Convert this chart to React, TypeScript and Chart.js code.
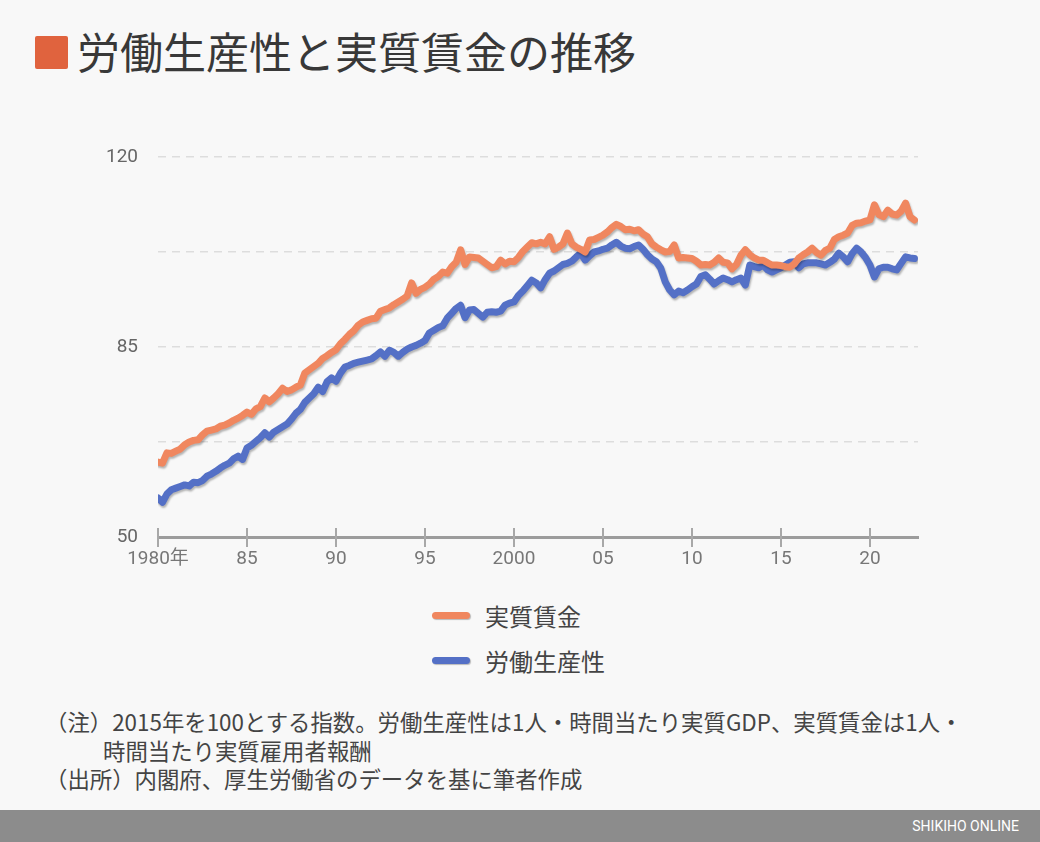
import React, { useEffect, useRef } from "react";
import { Chart, registerables } from "chart.js";

Chart.register(...registerables);

// Quarterly data, 1980Q1 .. 2022Q3 (2015 = 100)
const startYear = 1980;

const wage = [
  63.8, 63.6, 65.5, 65.4,
  65.8, 66.2, 67.0, 67.5,
  67.8, 67.9, 68.8, 69.5,
  69.7, 69.9, 70.4, 70.6,
  71.0, 71.5, 71.9, 72.4,
  73.0, 72.6, 73.6, 74.0,
  75.6, 74.9, 75.6, 76.4,
  77.4, 76.8, 77.1, 77.6,
  78.0, 80.2, 80.8, 81.4,
  82.0, 82.9, 83.4, 84.0,
  84.5, 85.6, 86.4, 87.3,
  88.0, 89.0, 89.6, 89.9,
  90.2, 90.3, 91.6, 91.9,
  92.2, 92.8, 93.3, 93.8,
  94.4, 96.8, 94.9, 95.6,
  96.0, 96.6, 97.5, 98.0,
  98.8, 98.6, 99.8, 100.6,
  102.9, 100.2, 101.6, 101.5,
  101.4, 100.8, 100.2, 99.6,
  99.8, 101.0, 100.3, 100.8,
  100.7, 101.5, 102.6, 103.4,
  104.2, 104.0, 104.3, 104.0,
  105.3, 103.0, 103.4, 104.0,
  106.0, 104.0, 103.4, 103.0,
  102.5, 104.7, 104.8, 105.2,
  105.6, 106.2, 107.0, 107.6,
  107.2, 106.6, 106.7, 106.4,
  106.6, 105.8, 105.3, 104.0,
  103.4, 102.9, 102.5, 102.6,
  103.8, 101.4, 101.5, 101.4,
  101.3, 100.8, 100.1, 100.2,
  100.1, 100.6, 101.4, 100.6,
  100.5, 99.4, 100.2, 101.9,
  102.9, 102.0, 101.4, 101.0,
  101.0, 100.5, 100.1, 100.1,
  100.0, 99.8, 99.7, 100.3,
  101.4, 102.0, 102.5, 103.2,
  102.4, 101.9, 102.8, 103.2,
  104.8, 105.3, 105.6, 106.0,
  107.4, 107.8, 107.9, 108.2,
  108.4, 111.2, 109.4, 109.0,
  110.2, 109.5, 109.3, 110.0,
  111.5, 109.0, 108.4,
];

const productivity = [
  57.2, 56.4, 57.9, 58.7,
  59.0, 59.3, 59.6, 59.4,
  60.1, 60.0, 60.4, 61.2,
  61.6, 62.1, 62.7, 63.2,
  63.6, 64.4, 64.9, 64.3,
  66.4, 66.9, 67.6, 68.3,
  69.2, 68.4, 69.3, 69.8,
  70.3, 70.8, 71.7, 72.8,
  73.5, 74.8, 75.6, 76.4,
  77.6, 76.8, 78.6, 79.3,
  78.7, 80.2, 81.3, 81.6,
  82.0, 82.2, 82.4, 82.6,
  82.8, 83.4, 84.1, 83.3,
  84.4, 84.0, 83.3, 84.0,
  84.6, 85.0, 85.3, 85.7,
  86.2, 87.6, 88.1, 88.6,
  88.9, 90.3, 91.2, 92.1,
  92.7, 90.4, 91.8, 91.9,
  91.2, 90.5, 91.4, 91.5,
  91.4, 91.6, 92.7, 93.1,
  93.3, 94.5, 95.3, 96.3,
  97.3, 96.8, 95.9, 97.4,
  98.6, 99.0, 99.6, 100.2,
  100.4, 100.8, 101.6, 102.3,
  101.0, 101.8, 102.5, 102.7,
  103.0, 103.2, 103.8, 104.3,
  103.6, 103.2, 103.1, 103.5,
  103.8, 103.0, 102.0, 101.2,
  100.7, 99.5, 97.0, 95.5,
  94.6, 95.3, 95.0, 95.5,
  96.1, 96.6, 98.0, 98.3,
  97.5, 96.6, 97.2, 97.7,
  97.4, 97.0, 97.4, 97.7,
  96.4, 100.1, 99.8, 99.6,
  100.1, 99.2, 98.8, 99.2,
  99.6, 100.1, 100.6, 100.7,
  99.6, 100.3, 100.5, 100.5,
  100.5, 100.3, 100.1, 100.6,
  101.2, 102.3, 101.6, 100.7,
  102.2, 103.2, 102.5, 101.5,
  100.1, 97.9, 99.4, 99.7,
  99.7, 99.4, 99.2, 100.4,
  101.6, 101.4, 101.3,
];

const xTickValues = [1980, 1985, 1990, 1995, 2000, 2005, 2010, 2015, 2020];
const xTickLabels = ["1980年", "85", "90", "95", "2000", "05", "10", "15", "20"];
const yGridValues = [50, 67.5, 85, 102.5, 120];
const yTickLabels = ["50", "", "85", "", "120"];
const seriesNames = ["実質賃金", "労働生産性"];
const seriesColors = ["#F0875F", "#5470C6"];

const title = "労働生産性と実質賃金の推移";
const noteLines = [
  "（注）2015年を100とする指数。労働生産性は1人・時間当たり実質GDP、実質賃金は1人・",
  "時間当たり実質雇用者報酬",
  "（出所）内閣府、厚生労働省のデータを基に筆者作成",
];
const credit = "SHIKIHO ONLINE";

const CJK = "'Noto Sans CJK JP', 'Noto Sans', sans-serif";
const NUM = "Roboto, 'Noto Sans CJK JP', sans-serif";

const toPoints = (arr: number[]) => arr.map((v, i) => ({ x: startYear + i / 4, y: v }));

const shadowPlugin = {
  id: "lineShadow",
  beforeDatasetsDraw(chart: any) {
    const ctx = chart.ctx;
    ctx.save();
    ctx.shadowColor = "rgba(0,0,0,0.28)";
    ctx.shadowOffsetX = 1;
    ctx.shadowOffsetY = 2;
    ctx.shadowBlur = 2;
  },
  afterDatasetsDraw(chart: any) {
    chart.ctx.restore();
  },
};

const tickMarkPlugin = {
  id: "tickMarks",
  afterDraw(chart: any) {
    const ctx = chart.ctx;
    const xs = chart.scales.x;
    const bottom = chart.chartArea.bottom;
    ctx.save();
    ctx.strokeStyle = "#a8a8a8";
    ctx.lineWidth = 2;
    xTickValues.forEach((v) => {
      const px = Math.round(xs.getPixelForValue(v));
      ctx.beginPath();
      ctx.moveTo(px, bottom - 9);
      ctx.lineTo(px, bottom + 10);
      ctx.stroke();
    });
    ctx.restore();
  },
};

function LineChart() {
  const ref = useRef<HTMLCanvasElement | null>(null);
  useEffect(() => {
    if (!ref.current) return;
    const datasets = [wage, productivity].map((arr, i) => ({
      label: seriesNames[i],
      data: toPoints(arr),
      borderColor: seriesColors[i],
      backgroundColor: seriesColors[i],
      borderWidth: 7,
      pointRadius: 0,
      tension: 0,
      borderJoinStyle: "round" as const,
      borderCapStyle: "round" as const,
      fill: false,
    }));
    const chart = new Chart(ref.current, {
      type: "line",
      data: { datasets },
      options: {
        animation: false,
        responsive: false,
        maintainAspectRatio: false,
        layout: { padding: { top: 57, right: 122, left: 0, bottom: 0 } },
        plugins: { legend: { display: false }, tooltip: { enabled: false } },
        scales: {
          x: {
            type: "linear",
            min: 1980,
            max: 2022.7,
            afterBuildTicks: (s: any) => {
              s.ticks = xTickValues.map((v) => ({ value: v }));
            },
            afterFit: (s: any) => {
              s.height = 43;
            },
            grid: { display: true, color: "rgba(0,0,0,0)", drawTicks: false },
            border: { display: true, color: "#9c9c9c", width: 3 },
            ticks: {
              autoSkip: false,
              maxRotation: 0,
              padding: 11,
              color: "#777777",
              font: { family: NUM, size: 19 },
              callback: (v: any) => {
                const idx = xTickValues.indexOf(Number(v));
                return idx >= 0 ? xTickLabels[idx] : "";
              },
            },
          },
          y: {
            type: "linear",
            min: 50,
            max: 120,
            afterBuildTicks: (s: any) => {
              s.ticks = yGridValues.map((v) => ({ value: v }));
            },
            afterFit: (s: any) => {
              s.width = 158;
            },
            grid: { color: "#dddddd", lineWidth: 1.5, drawTicks: false },
            border: { display: false, dash: [8, 6] },
            ticks: {
              padding: 20,
              color: "#666666",
              font: { family: NUM, size: 19 },
              callback: (v: any) => {
                const idx = yGridValues.indexOf(Number(v));
                return idx >= 0 ? yTickLabels[idx] : "";
              },
            },
          },
        },
      },
      plugins: [shadowPlugin, tickMarkPlugin],
    });
    return () => chart.destroy();
  }, []);
  return (
    <canvas
      ref={ref}
      width={1040}
      height={480}
      style={{ position: "absolute", left: 0, top: 100, width: 1040, height: 480 }}
    />
  );
}

export default function App() {
  return (
    <div
      style={{
        position: "absolute",
        left: 0,
        top: 0,
        width: 1040,
        height: 842,
        background: "#f8f8f8",
        overflow: "hidden",
        fontFamily: CJK,
      }}
    >
      <div
        style={{
          position: "absolute",
          left: 35,
          top: 36,
          width: 33,
          height: 33,
          background: "#E0633E",
          borderRadius: 2,
        }}
      />
      <div
        style={{
          position: "absolute",
          left: 77,
          top: 25,
          fontSize: 43,
          lineHeight: "50px",
          color: "#383838",
          whiteSpace: "nowrap",
        }}
      >
        {title}
      </div>

      <LineChart />

      {seriesNames.map((name, i) => (
        <div key={name}>
          <div
            style={{
              position: "absolute",
              left: 432,
              top: 612 + i * 45,
              width: 38,
              height: 7,
              borderRadius: 4,
              background: seriesColors[i],
              boxShadow: "1px 1px 1px rgba(0,0,0,0.25)",
            }}
          />
          <div
            style={{
              position: "absolute",
              left: 485,
              top: 600 + i * 45,
              fontSize: 24,
              lineHeight: "32px",
              color: "#444444",
              whiteSpace: "nowrap",
            }}
          >
            {name}
          </div>
        </div>
      ))}

      <div
        style={{
          position: "absolute",
          left: 45,
          top: 707,
          fontSize: 22.4,
          lineHeight: "28.5px",
          color: "#444444",
          whiteSpace: "nowrap",
        }}
      >
        <div>{noteLines[0]}</div>
        <div style={{ paddingLeft: 58 }}>{noteLines[1]}</div>
        <div>{noteLines[2]}</div>
      </div>

      <div
        style={{
          position: "absolute",
          left: 0,
          top: 810,
          width: 1040,
          height: 32,
          background: "#8c8c8c",
        }}
      >
        <div
          style={{
            position: "absolute",
            right: 21,
            top: 0,
            lineHeight: "32px",
            fontSize: 14,
            fontFamily: "Roboto, sans-serif",
            color: "#ffffff",
            whiteSpace: "nowrap",
          }}
        >
          {credit}
        </div>
      </div>
    </div>
  );
}
